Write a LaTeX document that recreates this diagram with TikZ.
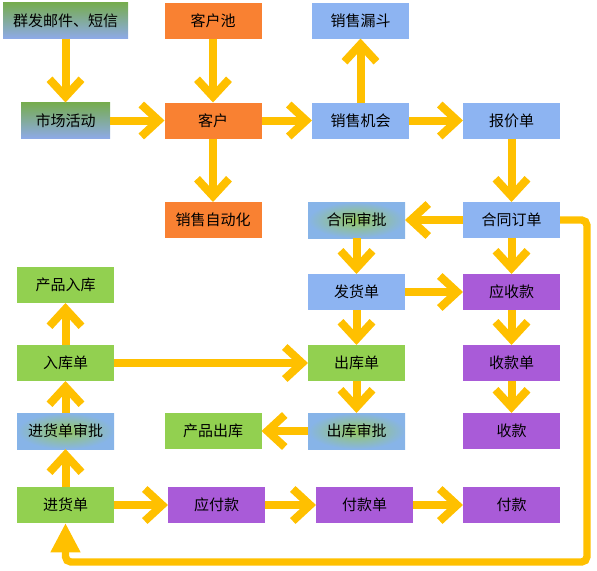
\documentclass[tikz,border=0pt]{standalone}
\usepackage{fontspec}
\setmainfont{Noto Sans CJK SC}
\usetikzlibrary{arrows.meta}
\definecolor{gold}{RGB}{255,192,0}
\definecolor{boxorange}{RGB}{249,129,50}
\definecolor{boxblue}{RGB}{141,180,242}
\definecolor{boxgreen}{RGB}{146,208,80}
\definecolor{boxpurple}{RGB}{169,91,216}
\definecolor{gradgreen}{RGB}{118,172,78}
\definecolor{gradblue}{RGB}{142,170,232}
\definecolor{sgreen}{RGB}{150,200,95}
\definecolor{sblue}{RGB}{135,180,232}
\begin{document}
\begin{tikzpicture}[x=0.75pt,y=-0.75pt,
  box/.style={minimum width=72.75pt,minimum height=27pt,inner sep=0pt,outer sep=0pt,
    font=\fontsize{11.25}{13}\selectfont,text=black},
  orangebox/.style={box,fill=boxorange},
  bluebox/.style={box,fill=boxblue},
  greenbox/.style={box,fill=boxgreen},
  purplebox/.style={box,fill=boxpurple},
  lingrad/.style={box,top color=gradgreen,bottom color=gradblue},
  radgrad/.style={box,shading=radial,inner color=sgreen,outer color=sblue},
  arr/.style={draw=gold,line width=6pt,-{Straight Barb[length=13pt,width=24pt]}},
  looparr/.style={draw=gold,line width=5.5pt,rounded corners=4pt,-{Triangle[length=22pt,width=21pt]}}
]
\useasboundingbox (0,0) rectangle (597,571);

\node[lingrad,minimum width=93.75pt] (qf) at (65.5,20.5) {群发邮件、短信};
\node[orangebox] (khc) at (213,20.5) {客户池};
\node[bluebox] (xsld) at (360.5,20.5) {销售漏斗};
\node[lingrad,minimum width=66.75pt] (scd) at (65.5,120.5) {市场活动};
\node[orangebox] (kh) at (213,120.5) {客户};
\node[bluebox] (xsjh) at (360.5,120.5) {销售机会};
\node[bluebox] (bjd) at (511.5,120.5) {报价单};
\node[orangebox] (xszdh) at (213,220) {销售自动化};
\node[radgrad] (htsp) at (356.5,220) {合同审批};
\node[bluebox] (htdd) at (511.5,220) {合同订单};
\node[greenbox] (cprk) at (65.5,285) {产品入库};
\node[bluebox] (fhd) at (356.5,292) {发货单};
\node[purplebox] (ysk) at (511.5,292) {应收款};
\node[greenbox] (rkd) at (65.5,363) {入库单};
\node[greenbox] (ckd) at (356.5,363) {出库单};
\node[purplebox] (skd) at (511.5,363) {收款单};
\node[radgrad] (jhdsp) at (65.5,431) {进货单审批};
\node[greenbox] (cpck) at (213,431) {产品出库};
\node[radgrad] (cksp) at (356.5,431) {出库审批};
\node[purplebox] (sk) at (511.5,431) {收款};
\node[greenbox] (jhd) at (65.5,505) {进货单};
\node[purplebox] (yfk) at (216.5,505) {应付款};
\node[purplebox] (fkd) at (364.5,505) {付款单};
\node[purplebox] (fk) at (511.5,505) {付款};

\draw[arr] (qf) -- (scd);
\draw[arr] (khc) -- (kh);
\draw[arr] (scd) -- (kh);
\draw[arr] (kh) -- (xsjh);
\draw[arr] (kh) -- (xszdh);
\draw[arr] (xsjh) -- (xsld);
\draw[arr] (xsjh) -- (bjd);
\draw[arr] (bjd) -- (htdd);
\draw[arr] (htdd) -- (htsp);
\draw[arr] (htsp) -- (fhd);
\draw[arr] (htdd) -- (ysk);
\draw[arr] (fhd) -- (ysk);
\draw[arr] (fhd) -- (ckd);
\draw[arr] (ysk) -- (skd);
\draw[arr] (skd) -- (sk);
\draw[arr] (ckd) -- (cksp);
\draw[arr] (cksp) -- (cpck);
\draw[arr] (rkd) -- (ckd);
\draw[arr] (rkd) -- (cprk);
\draw[arr] (jhdsp) -- (rkd);
\draw[arr] (jhd) -- (jhdsp);
\draw[arr] (jhd) -- (yfk);
\draw[arr] (yfk) -- (fkd);
\draw[arr] (fkd) -- (fk);

\coordinate (loopc) at (587,562);
\draw[looparr] (htdd.east) -| (loopc) -| (jhd.south);
\end{tikzpicture}
\end{document}
